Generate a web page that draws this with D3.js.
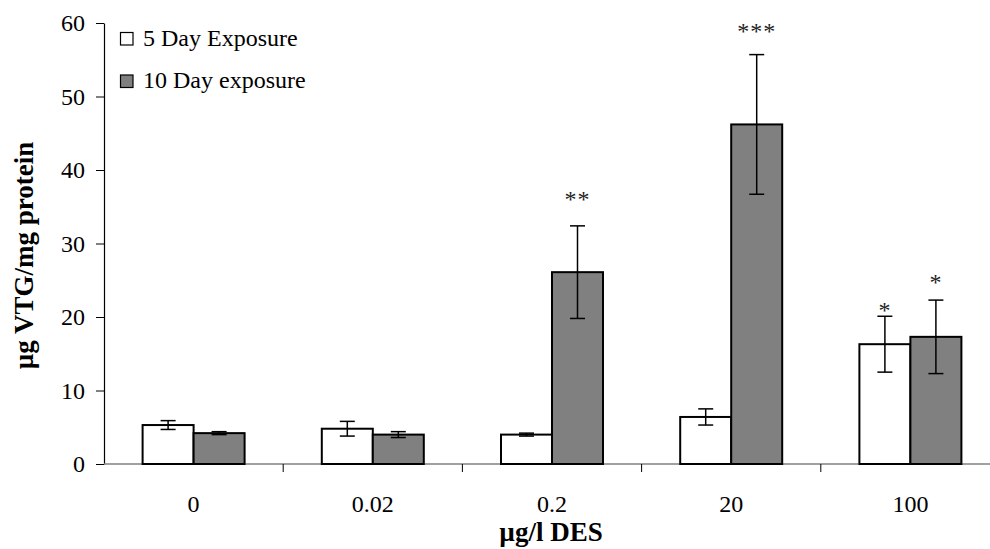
<!DOCTYPE html>
<html>
<head>
<meta charset="utf-8">
<script src="https://cdn.jsdelivr.net/npm/d3@7"></script>
<style>
  html, body { margin: 0; padding: 0; background: #fff; }
  svg { display: block; font-family: "Liberation Serif", "Times New Roman", serif; }
</style>
</head>
<body>
<svg id="chart" width="990" height="549"></svg>
<script>
// DES concentrations (µg/l) and vitellogenin levels (µg VTG/mg protein)
const categories = ["0", "0.02", "0.2", "20", "100"];
const seriesNames = ["5 Day Exposure", "10 Day exposure"];
const day5Mean = [5.3, 4.8, 4.0, 6.4, 16.3];
const day5Err  = [0.6, 1.0, 0.2, 1.1, 3.8];
const day10Mean = [4.2, 4.0, 26.1, 46.2, 17.3];
const day10Err  = [0.2, 0.4, 6.3, 9.5, 5.0];
// significance markers and the level (in axis units) where each is written
const day5Sig = ["", "", "", "", "*"];
const day5SigLevel = [0, 0, 0, 0, 21.6];
const day10Sig = ["", "", "**", "***", "*"];
const day10SigLevel = [0, 0, 36.7, 59.6, 25.4];
const yTicks = [0, 10, 20, 30, 40, 50, 60];
const seriesFill = ["#ffffff", "#808080"];

const series = [
  { name: seriesNames[0], mean: day5Mean, err: day5Err, sig: day5Sig, sigLevel: day5SigLevel, fill: seriesFill[0] },
  { name: seriesNames[1], mean: day10Mean, err: day10Err, sig: day10Sig, sigLevel: day10SigLevel, fill: seriesFill[1] }
];

const svg = d3.select("#chart");
const plotLeft = 104, plotTop = 23, plotBottom = 464;
const bandW = 179.2;

const x = d3.scaleBand().domain(categories).range([plotLeft, plotLeft + bandW * categories.length]).padding(0);
const y = d3.scaleLinear().domain([0, 60]).range([plotBottom, plotTop]);
const groupW = 102;
const xs = d3.scaleBand().domain(d3.range(series.length)).range([0, groupW]).padding(0);

// y axis
const yAxis = svg.append("g")
  .attr("transform", `translate(${plotLeft},0)`)
  .call(d3.axisLeft(y).tickValues(yTicks).tickSize(8).tickPadding(11).tickSizeOuter(0));
yAxis.select(".domain").attr("stroke", "#000").attr("stroke-width", 1.2);
yAxis.selectAll(".tick line").attr("stroke", "#000").attr("stroke-width", 1);
yAxis.selectAll(".tick text").attr("font-size", 24).attr("font-family", "Liberation Serif").attr("fill", "#000");

// x axis line and category separators
const boundaries = d3.range(1, categories.length + 1).map(i => plotLeft + bandW * i);
svg.append("line")
  .attr("x1", plotLeft).attr("x2", plotLeft + bandW * categories.length)
  .attr("y1", plotBottom).attr("y2", plotBottom)
  .attr("stroke", "#808080").attr("stroke-width", 1.5);
svg.selectAll(".xsep").data(boundaries).enter().append("line")
  .attr("x1", d => d).attr("x2", d => d)
  .attr("y1", plotBottom).attr("y2", plotBottom + 8)
  .attr("stroke", "#000").attr("stroke-width", 1);
svg.selectAll(".xlab").data(categories).enter().append("text")
  .attr("x", d => x(d) + x.bandwidth() / 2)
  .attr("y", 512)
  .attr("text-anchor", "middle")
  .attr("font-size", 24)
  .text(d => d);

// bars
series.forEach((s, si) => {
  const g = svg.append("g");
  const bx = c => x(c) + x.bandwidth() / 2 - groupW / 2 + xs(si);
  g.selectAll("rect").data(categories).enter().append("rect")
    .attr("x", c => bx(c))
    .attr("y", (c, i) => y(s.mean[i]))
    .attr("width", xs.bandwidth())
    .attr("height", (c, i) => plotBottom - y(s.mean[i]))
    .attr("fill", s.fill)
    .attr("stroke", "#000").attr("stroke-width", 2);
  // error bars
  const cx = c => bx(c) + xs.bandwidth() / 2;
  const eb = g.selectAll(".err").data(categories).enter().append("g");
  eb.append("line")
    .attr("x1", c => cx(c)).attr("x2", c => cx(c))
    .attr("y1", (c, i) => y(s.mean[i] + s.err[i]))
    .attr("y2", (c, i) => y(s.mean[i] - s.err[i]))
    .attr("stroke", "#000").attr("stroke-width", 1.5);
  [1, -1].forEach(sign => {
    eb.append("line")
      .attr("x1", c => cx(c) - 7.5).attr("x2", c => cx(c) + 7.5)
      .attr("y1", (c, i) => y(s.mean[i] + sign * s.err[i]))
      .attr("y2", (c, i) => y(s.mean[i] + sign * s.err[i]))
      .attr("stroke", "#000").attr("stroke-width", 1.5);
  });
  // significance stars
  g.selectAll(".sig").data(categories).enter().append("text")
    .attr("x", c => cx(c))
    .attr("y", (c, i) => y(s.sigLevel[i]) + 13)
    .attr("text-anchor", "middle")
    .attr("font-size", 24)
    .attr("letter-spacing", 1)
    .attr("fill", "#222")
    .text((c, i) => s.sig[i]);
});

// axis titles
svg.append("text")
  .attr("transform", `translate(33,${(plotTop + plotBottom) / 2 + 12}) rotate(-90)`)
  .attr("text-anchor", "middle")
  .attr("font-size", 27)
  .attr("font-weight", "bold")
  .text("µg VTG/mg protein");
svg.append("text")
  .attr("x", 551).attr("y", 541)
  .attr("text-anchor", "middle")
  .attr("font-size", 27)
  .attr("font-weight", "bold")
  .text("µg/l DES");

// legend
const legend = svg.append("g").attr("transform", "translate(120,32)");
series.forEach((s, i) => {
  const row = legend.append("g").attr("transform", `translate(0,${i * 42.5})`);
  row.append("rect").attr("x", 0.5).attr("y", 0.5).attr("width", 12.5).attr("height", 12.5)
    .attr("fill", s.fill).attr("stroke", "#000").attr("stroke-width", 1.2);
  row.append("text").attr("x", 23).attr("y", 13.5)
    .attr("font-size", 24)
    .text(s.name);
});
</script>
</body>
</html>
